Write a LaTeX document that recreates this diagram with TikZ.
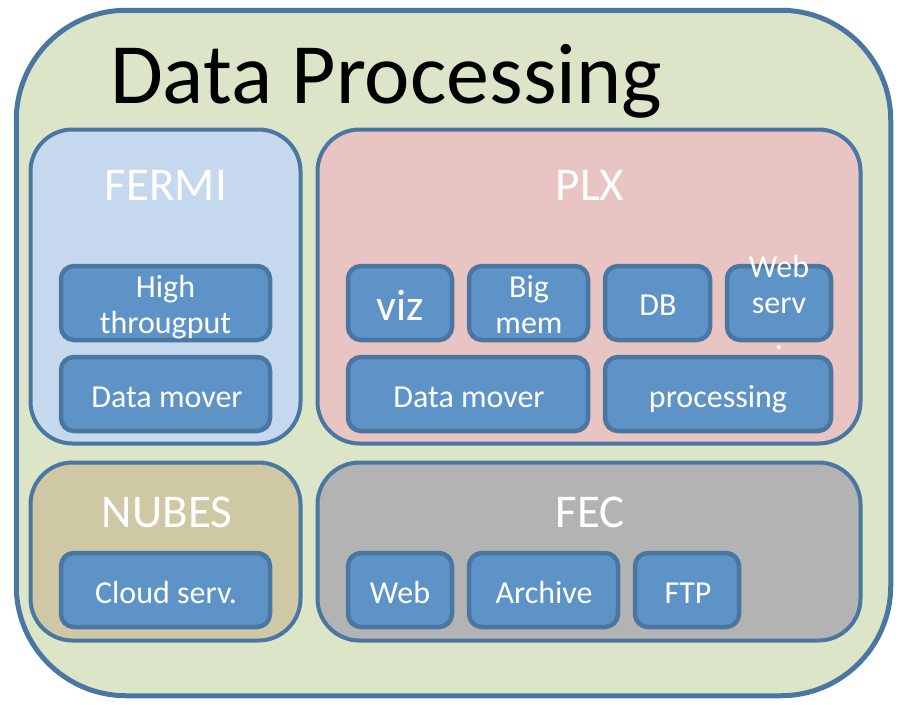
\documentclass[tikz,border=0pt]{standalone}
\usepackage{fontspec}
\setmainfont{Carlito}
\definecolor{edge}{HTML}{4A76A2}
\definecolor{outerfill}{HTML}{DCE5C8}
\definecolor{fermifill}{HTML}{C5D8EE}
\definecolor{plxfill}{HTML}{E8C4C3}
\definecolor{nubesfill}{HTML}{CEC8A5}
\definecolor{fecfill}{HTML}{B3B3B3}
\definecolor{itemfill}{HTML}{5E93C8}
\begin{document}
\begin{tikzpicture}[x=1pt,y=-1pt,
  panel/.style={draw=edge, line width=4pt, rounded corners=42pt, inner sep=0pt},
  item/.style={draw=edge, fill=itemfill, line width=4.5pt, rounded corners=13pt, inner sep=0pt,
    minimum height=74pt},
  itext/.style={text=white, font=\fontsize{32}{36}\selectfont, anchor=base, inner sep=0pt},
  ptitle/.style={text=white, font=\fontsize{47}{56}\selectfont, anchor=base, inner sep=0pt}]
\useasboundingbox (0,0) rectangle (901,704);
\node[draw=edge, fill=outerfill, line width=5pt, rounded corners=110pt, inner sep=0pt,
  minimum width=874.5pt, minimum height=685.5pt] (outer) at (453.5,353) {};
\node[anchor=base, inner sep=0pt, font=\fontsize{86}{100}\selectfont] (title) at (386,103) {Data Processing};
% panels
\node[panel, fill=fermifill, minimum width=270pt, minimum height=314pt] (fermi) at (165.5,286.5) {};
\node[panel, fill=plxfill, minimum width=543pt, minimum height=314pt] (plx) at (589,286.5) {};
\node[panel, fill=nubesfill, minimum width=270pt, minimum height=178pt] (nubes) at (165.5,551.5) {};
\node[panel, fill=fecfill, minimum width=543pt, minimum height=178pt] (fec) at (589,551.5) {};
\node[ptitle] (fermit) at (166,200) {FERMI};
\node[ptitle] (plxt) at (590,200) {PLX};
\node[ptitle] (nubest) at (167,527) {NUBES};
\node[ptitle] (fect) at (590,527) {FEC};
% boxes
\node[item, minimum width=209pt] (high) at (165.5,303) {};
\node[item, minimum width=209pt] (fmover) at (165.5,394) {};
\node[item, minimum width=104pt] (viz) at (400,303) {};
\node[item, minimum width=119pt] (bigmem) at (528.5,303) {};
\node[item, minimum width=105pt] (db) at (657.5,303) {};
\node[item, minimum width=104pt] (webserv) at (779,303) {};
\node[item, minimum width=240pt] (pmover) at (468,394) {};
\node[item, minimum width=226pt] (proc) at (718,394) {};
\node[item, minimum width=209pt] (cloud) at (165.5,590) {};
\node[item, minimum width=104pt] (web) at (400,590) {};
\node[item, minimum width=149pt] (archive) at (543.5,590) {};
\node[item, minimum width=104pt] (ftp) at (687,590) {};
% texts
\node[itext] (highA) at (165.5,297) {High};
\node[itext] (highB) at (165.5,333) {througput};
\node[itext] (fmovert) at (167,407) {Data mover};
\node[itext, font=\fontsize{44}{50}\selectfont] (vizt) at (400,320) {viz};
\node[itext] (bigA) at (529,297) {Big};
\node[itext] (bigB) at (529,333) {mem};
\node[itext] (dbt) at (658,315) {DB};
\node[itext] (webA) at (779,277) {Web};
\node[itext] (webB) at (779,313) {serv};
\node[itext] (webC) at (779,349) {.};
\node[itext] (pmovert) at (469,407) {Data mover};
\node[itext] (proct) at (718,407) {processing};
\node[itext] (cloudt) at (166,603) {Cloud serv.};
\node[itext] (webt) at (400,603) {Web};
\node[itext] (archivet) at (544,603) {Archive};
\node[itext] (ftpt) at (688,603) {FTP};
\end{tikzpicture}
\end{document}
